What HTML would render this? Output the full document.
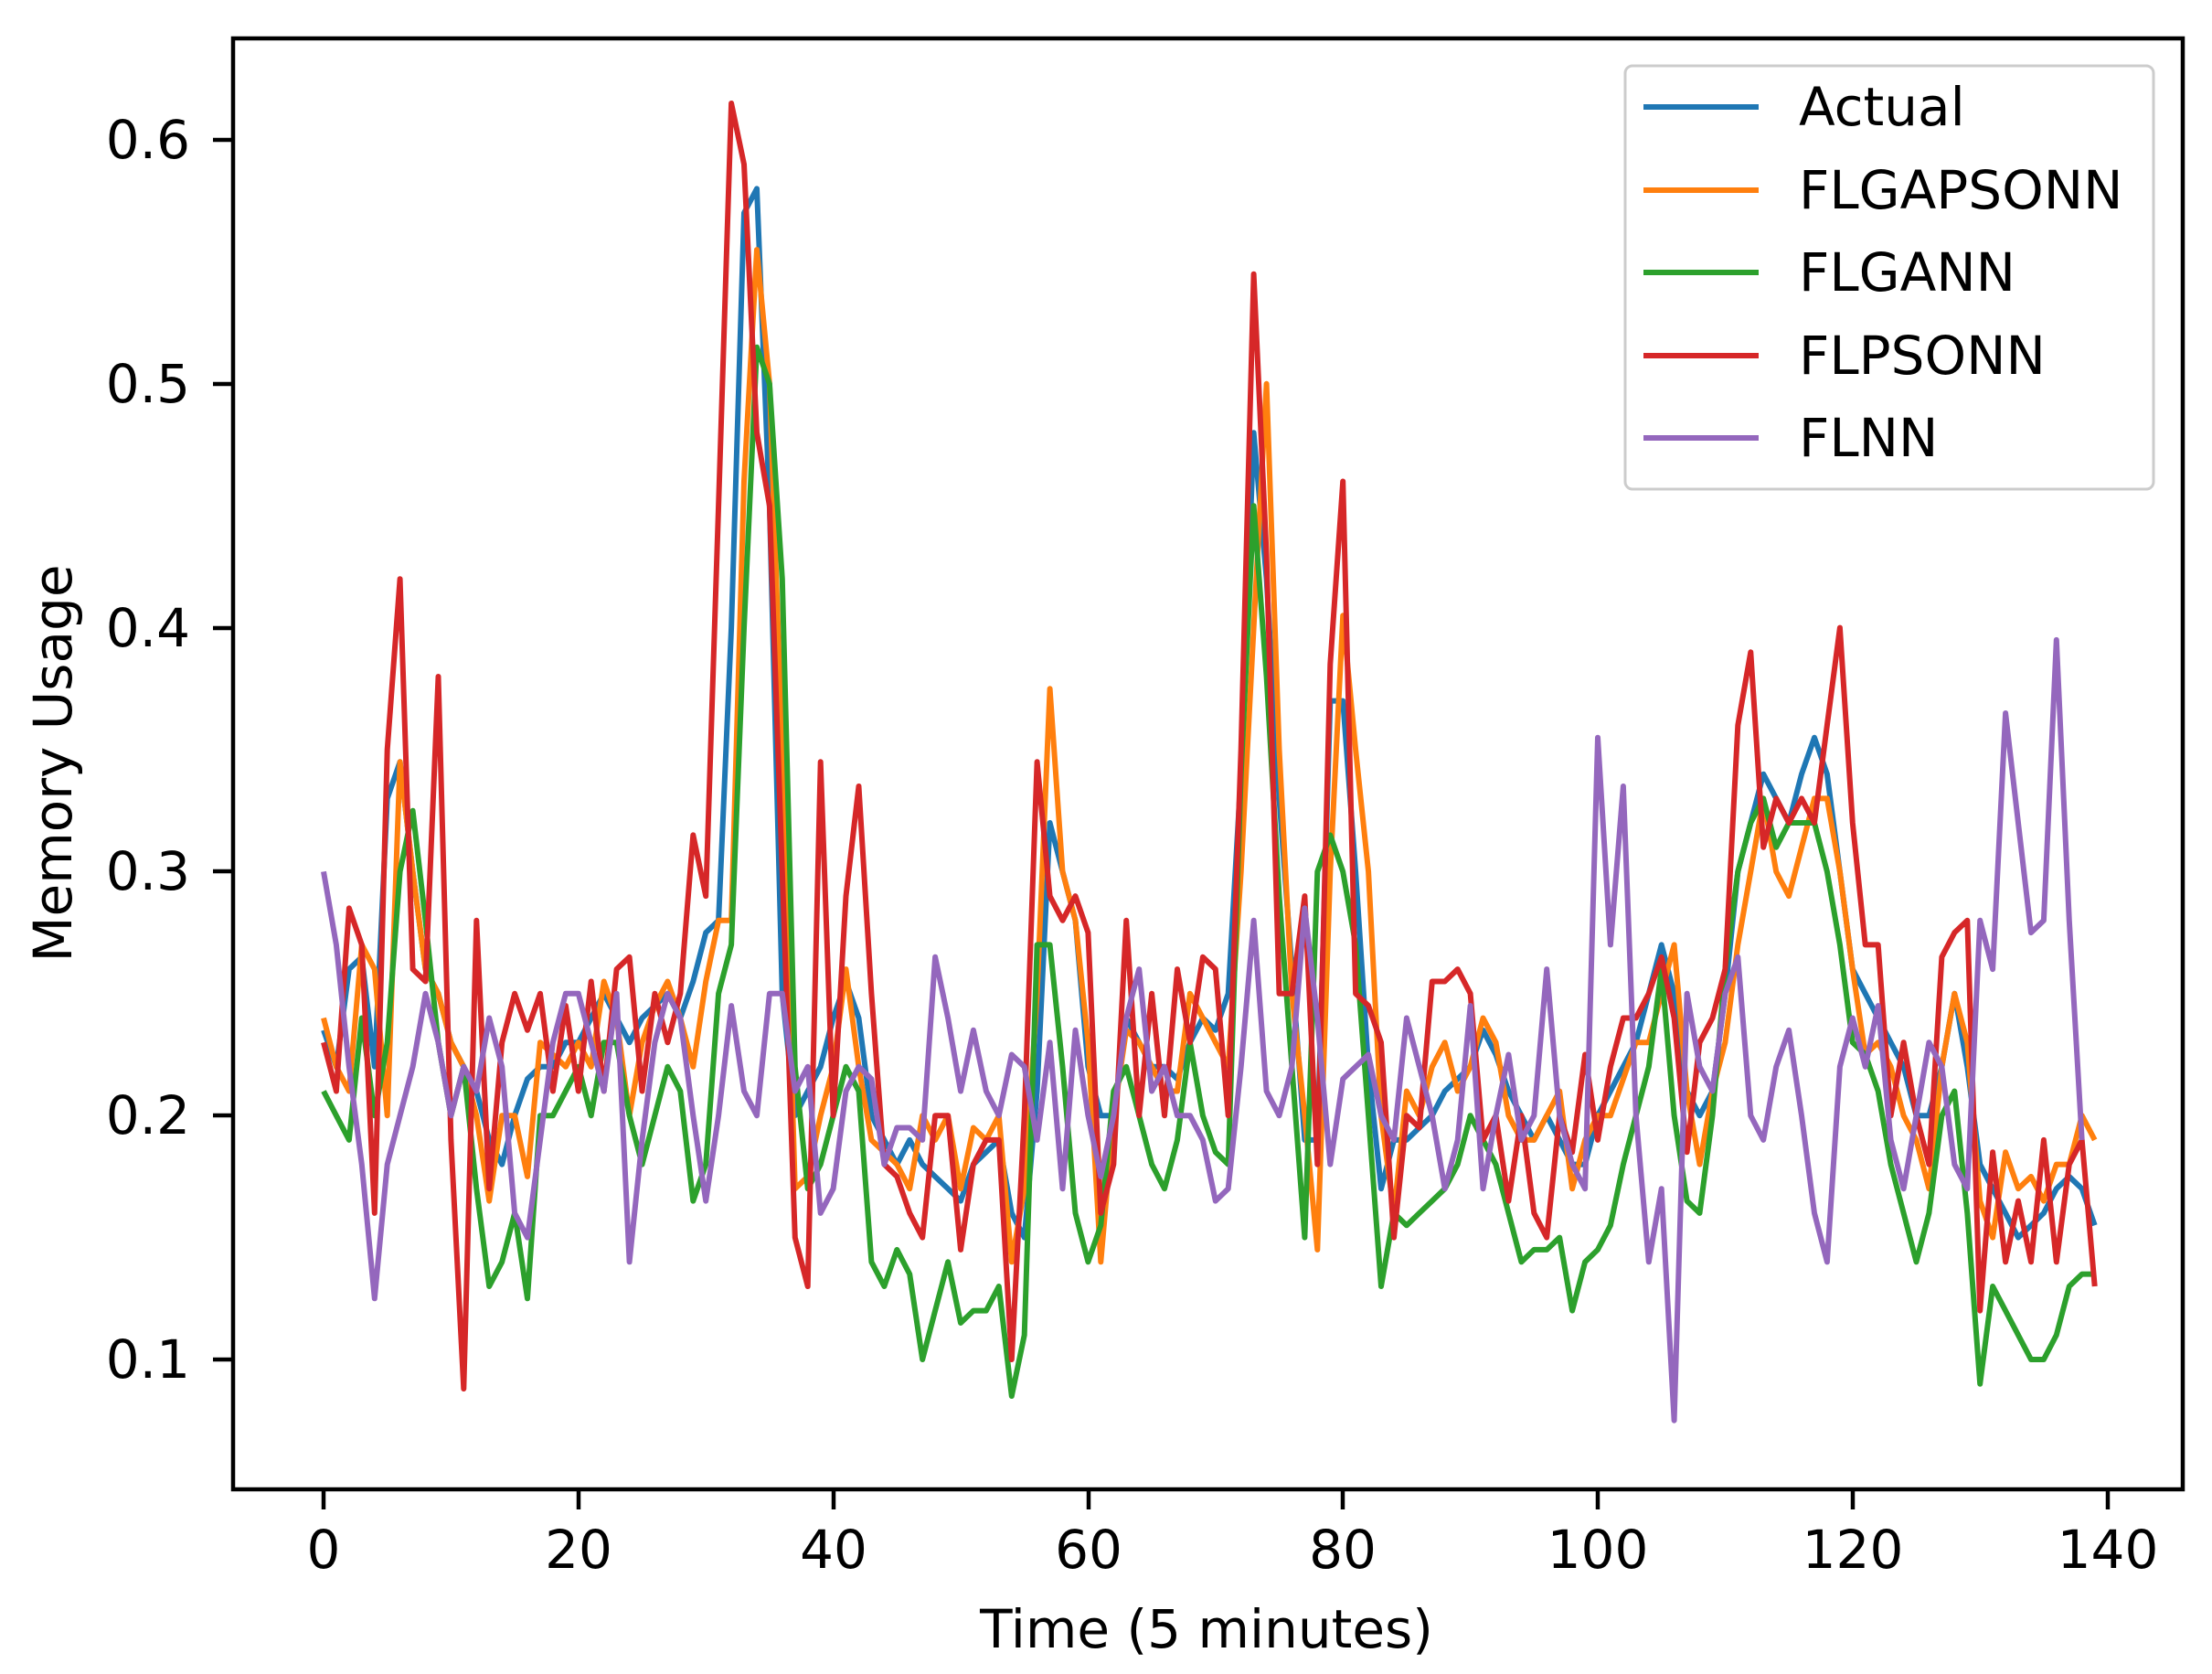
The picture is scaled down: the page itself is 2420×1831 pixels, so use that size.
<!DOCTYPE html>
<html><head><meta charset="utf-8"><style>
html,body{margin:0;padding:0;background:#fff;}
svg{display:block;}
text{font-family:"DejaVu Sans","Liberation Sans",sans-serif;fill:#000;}
</style></head><body>
<svg id="s" width="2420" height="1831" viewBox="0 0 2420 1831" xmlns="http://www.w3.org/2000/svg">
<rect width="2420" height="1831" fill="#fff"/>
<g id="series"></g>
<rect x="255" y="42" width="2133" height="1587" fill="none" stroke="#000" stroke-width="4.5"/>
<g stroke="#000" stroke-width="4.5">
<line x1="233" y1="153" x2="255" y2="153"/><line x1="233" y1="420" x2="255" y2="420"/>
<line x1="233" y1="687" x2="255" y2="687"/><line x1="233" y1="953" x2="255" y2="953"/>
<line x1="233" y1="1220" x2="255" y2="1220"/><line x1="233" y1="1487" x2="255" y2="1487"/>
<line x1="354" y1="1629" x2="354" y2="1651"/><line x1="633" y1="1629" x2="633" y2="1651"/>
<line x1="912" y1="1629" x2="912" y2="1651"/><line x1="1191" y1="1629" x2="1191" y2="1651"/>
<line x1="1469" y1="1629" x2="1469" y2="1651"/><line x1="1748" y1="1629" x2="1748" y2="1651"/>
<line x1="2027" y1="1629" x2="2027" y2="1651"/><line x1="2306" y1="1629" x2="2306" y2="1651"/>
</g>
<g font-size="58" text-anchor="end">
<text x="208" y="173">0.6</text><text x="208" y="440">0.5</text><text x="208" y="707">0.4</text>
<text x="208" y="973">0.3</text><text x="208" y="1240">0.2</text><text x="208" y="1507">0.1</text>
</g>
<g font-size="58" text-anchor="middle">
<text x="354" y="1715">0</text><text x="633" y="1715">20</text><text x="912" y="1715">40</text>
<text x="1191" y="1715">60</text><text x="1469" y="1715">80</text><text x="1748" y="1715">100</text>
<text x="2027" y="1715">120</text><text x="2306" y="1715">140</text>
<text x="1320" y="1802">Time (5 minutes)</text>
<text transform="translate(78,835) rotate(-90)">Memory Usage</text>
</g>
<rect x="1778" y="72" width="578" height="463" rx="8" fill="#fff" fill-opacity="0.8" stroke="#ccc" stroke-width="3"/>
<g stroke-width="6">
<line x1="1798" y1="117" x2="1924" y2="117" stroke="#1f77b4"/>
<line x1="1798" y1="208" x2="1924" y2="208" stroke="#ff7f0e"/>
<line x1="1798" y1="298" x2="1924" y2="298" stroke="#2ca02c"/>
<line x1="1798" y1="389" x2="1924" y2="389" stroke="#d62728"/>
<line x1="1798" y1="479" x2="1924" y2="479" stroke="#9467bd"/>
</g>
<g font-size="58">
<text x="1968" y="137">Actual</text><text x="1968" y="228">FLGAPSONN</text>
<text x="1968" y="318">FLGANN</text><text x="1968" y="409">FLPSONN</text><text x="1968" y="499">FLNN</text>
</g>
</svg>
<script>
var blue=[.235,.22,.26,.265,.22,.33,.345,.3,.26,.25,.23,.22,.21,.19,.18,.2,.215,.22,.22,.23,.23,.24,.25,.24,.23,.24,.245,.25,.24,.255,.275,.28,.4,.57,.58,.45,.25,.2,.21,.22,.24,.255,.24,.2,.19,.18,.19,.18,.175,.17,.165,.18,.185,.19,.16,.15,.21,.32,.3,.28,.22,.2,.2,.24,.23,.22,.22,.215,.23,.24,.235,.25,.34,.48,.42,.33,.26,.19,.19,.37,.37,.3,.22,.17,.19,.19,.195,.2,.21,.215,.22,.235,.225,.21,.2,.19,.2,.19,.18,.18,.2,.21,.22,.23,.25,.27,.25,.21,.2,.21,.25,.3,.32,.34,.33,.32,.34,.355,.34,.3,.26,.25,.24,.23,.22,.2,.2,.22,.25,.22,.18,.17,.16,.15,.155,.16,.17,.175,.17,.155];
var orange=[.24,.22,.21,.27,.26,.2,.345,.3,.26,.25,.23,.22,.2,.165,.2,.2,.175,.23,.225,.22,.23,.22,.255,.24,.2,.23,.245,.255,.24,.22,.255,.28,.28,.46,.555,.5,.35,.17,.175,.2,.22,.26,.22,.19,.185,.18,.17,.2,.19,.2,.17,.195,.19,.2,.14,.17,.25,.375,.3,.28,.23,.14,.2,.235,.23,.22,.21,.21,.25,.24,.23,.22,.3,.4,.5,.35,.25,.2,.145,.3,.405,.35,.3,.2,.16,.21,.2,.22,.23,.21,.22,.24,.23,.2,.19,.19,.2,.21,.17,.19,.2,.2,.215,.23,.23,.25,.27,.21,.18,.21,.23,.27,.3,.33,.3,.29,.31,.33,.33,.3,.26,.225,.23,.22,.2,.19,.17,.22,.25,.23,.165,.15,.185,.17,.175,.165,.18,.18,.2,.19];
var green=[.21,.2,.19,.24,.2,.23,.3,.325,.28,.23,.2,.22,.17,.13,.14,.16,.125,.2,.2,.21,.22,.2,.23,.23,.2,.18,.2,.22,.21,.165,.18,.25,.27,.4,.515,.5,.42,.22,.17,.18,.2,.22,.21,.14,.13,.145,.135,.1,.12,.14,.115,.12,.12,.13,.085,.11,.27,.27,.22,.16,.14,.155,.21,.22,.2,.18,.17,.19,.23,.2,.185,.18,.34,.45,.38,.29,.22,.15,.3,.315,.3,.27,.2,.13,.16,.155,.16,.165,.17,.18,.2,.19,.18,.16,.14,.145,.145,.15,.12,.14,.145,.155,.18,.2,.22,.26,.2,.165,.16,.2,.26,.3,.32,.33,.31,.32,.32,.32,.3,.27,.23,.225,.21,.18,.16,.14,.16,.2,.21,.16,.09,.13,.12,.11,.1,.1,.11,.13,.135,.135];
var red=[.23,.21,.285,.27,.16,.35,.42,.26,.255,.38,.19,.088,.28,.17,.23,.25,.235,.25,.21,.245,.21,.255,.21,.26,.265,.21,.25,.23,.25,.315,.29,.45,.615,.59,.48,.45,.3,.15,.13,.345,.2,.29,.335,.25,.18,.175,.16,.15,.2,.2,.145,.18,.19,.19,.1,.2,.345,.29,.28,.29,.275,.16,.18,.28,.2,.25,.2,.26,.23,.265,.26,.2,.35,.545,.43,.25,.25,.29,.18,.385,.46,.25,.245,.23,.15,.2,.195,.255,.255,.26,.25,.19,.2,.165,.2,.16,.15,.2,.185,.225,.19,.22,.24,.24,.25,.265,.24,.185,.23,.24,.26,.36,.39,.31,.33,.32,.33,.32,.36,.4,.32,.27,.27,.2,.23,.2,.18,.265,.275,.28,.12,.185,.14,.165,.14,.19,.14,.18,.19,.13];
var purple=[.3,.27,.22,.18,.125,.18,.2,.22,.25,.23,.2,.22,.21,.24,.22,.16,.15,.19,.23,.25,.25,.23,.21,.25,.14,.19,.23,.25,.24,.2,.165,.2,.245,.21,.2,.25,.25,.21,.22,.16,.17,.21,.22,.215,.18,.195,.195,.19,.265,.24,.21,.235,.21,.2,.225,.22,.19,.23,.17,.235,.2,.175,.2,.24,.26,.21,.22,.2,.2,.19,.165,.17,.22,.28,.21,.2,.22,.285,.24,.18,.215,.22,.225,.2,.19,.24,.22,.2,.17,.19,.245,.17,.2,.225,.19,.2,.26,.2,.18,.17,.355,.27,.335,.2,.14,.17,.075,.25,.22,.21,.25,.265,.2,.19,.22,.235,.2,.16,.14,.22,.24,.22,.245,.19,.17,.2,.23,.22,.18,.17,.28,.26,.365,.32,.275,.28,.395,.28,.19];
var g=document.getElementById('series');
function add(a,c){var d='';for(var i=0;i<a.length;i++){var x=354+i*13.94,y=153+(0.6-a[i])*2668;d+=(i?'L':'M')+x.toFixed(1)+' '+y.toFixed(1);}
var p=document.createElementNS('http://www.w3.org/2000/svg','path');p.setAttribute('d',d);p.setAttribute('fill','none');p.setAttribute('stroke',c);p.setAttribute('stroke-width','6');p.setAttribute('stroke-linejoin','round');g.appendChild(p);}
add(blue,'#1f77b4');add(orange,'#ff7f0e');add(green,'#2ca02c');add(red,'#d62728');add(purple,'#9467bd');
</script>
</body></html>
